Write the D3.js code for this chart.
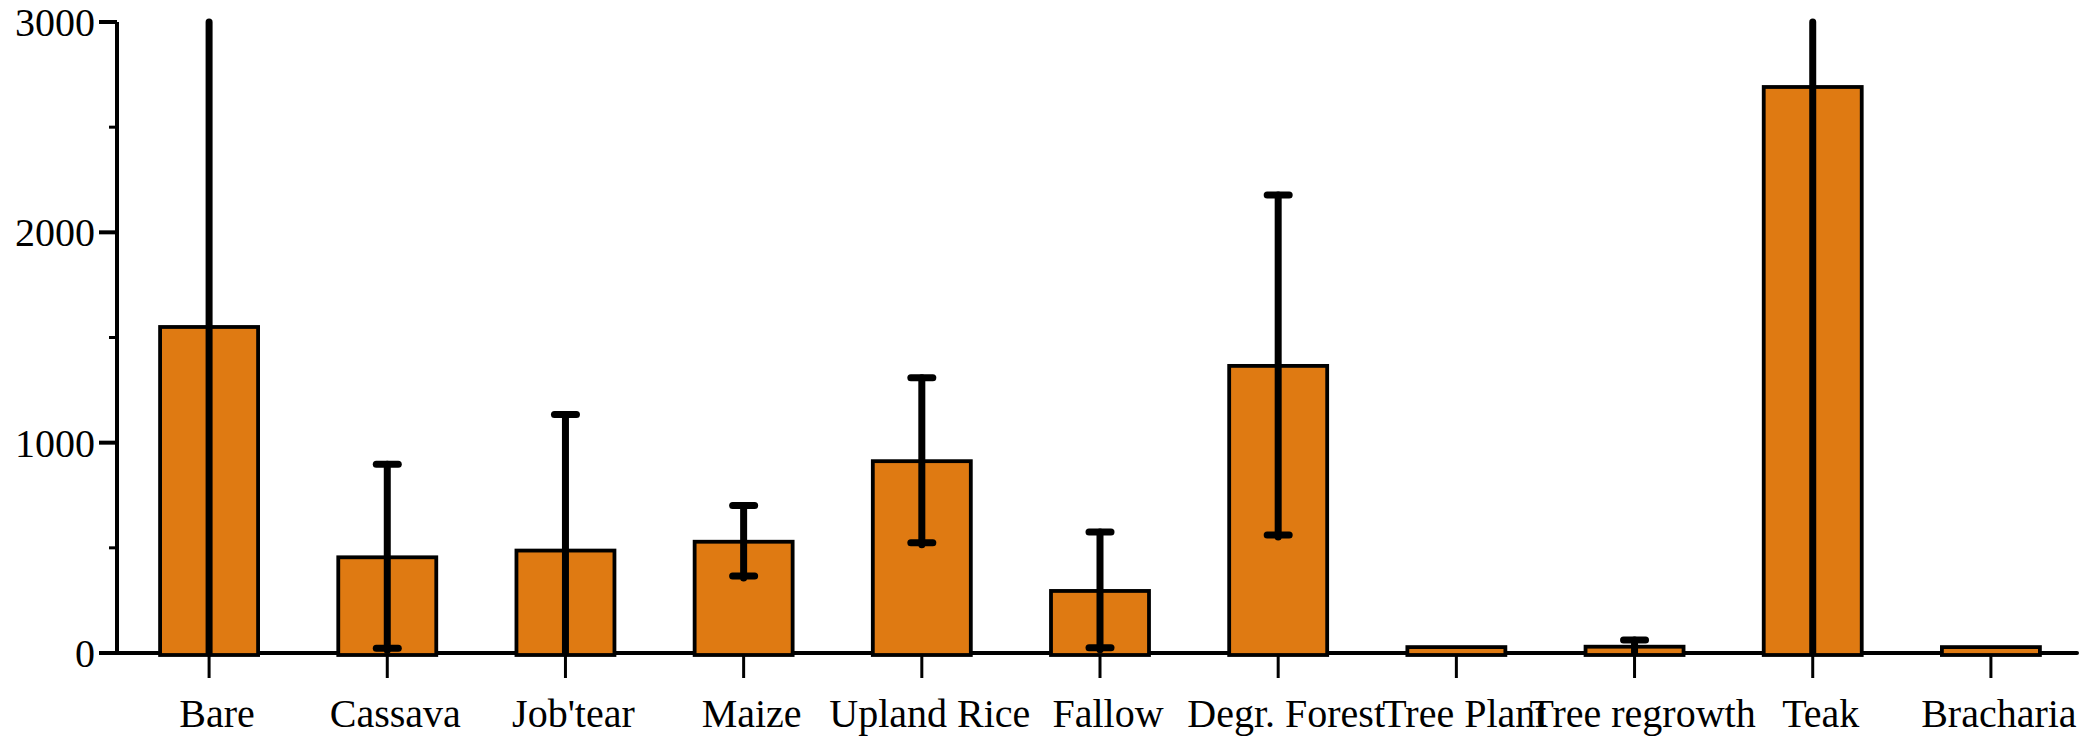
<!DOCTYPE html>
<html>
<head>
<meta charset="utf-8">
<script src="https://cdn.jsdelivr.net/npm/d3@7"></script>
<style>
  body { margin: 0; background: #fff; }
  text { font-family: "Liberation Serif", "Times New Roman", serif; fill: #000; }
</style>
</head>
<body>
<div id="vis"></div>
<script>
// categories along the x axis
var categories = ['Bare', 'Cassava', "Job'tear", 'Maize', 'Upland Rice', 'Fallow',
  'Degr. Forest', 'Tree Plant', 'Tree regrowth', 'Teak', 'Bracharia'];

// bar heights (mean)
var means = [1550, 455, 487, 529, 912, 295, 1365, 28, 30, 2691, 28];

// error bar half-lengths (0 = none drawn)
var errors = [1600, 442, 647, 172, 397, 280, 813, 0, 32, 2800, 0];

var yTicks = [0, 1000, 2000, 3000];
var yMinorTicks = [500, 1500, 2500];

var width = 2100;
var height = 736;

// plot area (note: "top" is reserved on window, so use prefixed names)
var plotLeft = 117, plotRight = 2077, plotTop = 22, plotBottom = 653;

var barColour = '#df7a12';

var svg = d3.select('#vis')
  .append('svg')
  .attr('width', width)
  .attr('height', height);

// bands sit a few px right of the axis origin, like the original
var x = d3.scaleBand()
  .domain(categories)
  .range([plotLeft + 3, plotRight + 3])
  .paddingInner(0.45)
  .paddingOuter(0.225);

var y = d3.scaleLinear()
  .domain([0, 3000])
  .range([plotBottom, plotTop]);

var data = categories.map(function (c, i) {
  return { cat: c, mean: means[i], err: errors[i] };
});

// x ticks go under the bars
svg.selectAll('.xtick')
  .data(categories)
  .enter().append('line')
  .attr('class', 'xtick')
  .attr('x1', d => x(d) + x.bandwidth() / 2)
  .attr('x2', d => x(d) + x.bandwidth() / 2)
  .attr('y1', plotBottom)
  .attr('y2', plotBottom + 25)
  .attr('stroke', '#000')
  .attr('stroke-width', 3);

// x axis line
svg.append('line')
  .attr('x1', plotLeft)
  .attr('x2', plotRight)
  .attr('y1', plotBottom)
  .attr('y2', plotBottom)
  .attr('stroke', '#000')
  .attr('stroke-width', 4)
  .attr('stroke-linecap', 'round');

// bars
svg.selectAll('.bar')
  .data(data)
  .enter().append('rect')
  .attr('class', 'bar')
  .attr('x', d => x(d.cat))
  .attr('width', x.bandwidth())
  .attr('y', d => y(d.mean))
  .attr('height', d => y(0) - y(d.mean) + 2)
  .attr('fill', barColour)
  .attr('stroke', '#000')
  .attr('stroke-width', 3.8);

// error bars, clamped to the axis range; no cap where clamped
var eb = data.filter(d => d.err > 0);
var capW = 22;

eb.forEach(function (d) {
  var cx = x(d.cat) + x.bandwidth() / 2;
  var lo = d.mean - d.err, hi = d.mean + d.err;
  var loC = Math.max(0, lo), hiC = Math.min(3000, hi);
  var g = svg.append('g')
    .attr('stroke', '#000')
    .attr('stroke-width', 7)
    .attr('stroke-linecap', 'round');
  g.append('line')
    .attr('x1', cx).attr('x2', cx)
    .attr('y1', y(loC)).attr('y2', y(hiC));
  if (hi <= 3000) {
    g.append('line')
      .attr('x1', cx - capW / 2).attr('x2', cx + capW / 2)
      .attr('y1', y(hi)).attr('y2', y(hi));
  }
  if (lo >= 0) {
    g.append('line')
      .attr('x1', cx - capW / 2).attr('x2', cx + capW / 2)
      .attr('y1', y(lo) - 2).attr('y2', y(lo) - 2);
  }
});

// y axis
svg.append('line')
  .attr('x1', plotLeft).attr('x2', plotLeft)
  .attr('y1', y(0)).attr('y2', y(3000))
  .attr('stroke', '#000')
  .attr('stroke-width', 4);

svg.selectAll('.ytick')
  .data(yTicks)
  .enter().append('line')
  .attr('class', 'ytick')
  .attr('x1', plotLeft - 18).attr('x2', plotLeft)
  .attr('y1', d => y(d)).attr('y2', d => y(d))
  .attr('stroke', '#000')
  .attr('stroke-width', 4);

svg.selectAll('.yminor')
  .data(yMinorTicks)
  .enter().append('line')
  .attr('class', 'yminor')
  .attr('x1', plotLeft - 8).attr('x2', plotLeft)
  .attr('y1', d => y(d)).attr('y2', d => y(d))
  .attr('stroke', '#000')
  .attr('stroke-width', 3);

svg.selectAll('.ylabel')
  .data(yTicks)
  .enter().append('text')
  .attr('class', 'ylabel')
  .attr('x', plotLeft - 22)
  .attr('y', d => y(d) + 14)
  .attr('text-anchor', 'end')
  .style('font-size', '40px')
  .text(d => d);

// category labels
svg.selectAll('.xlabel')
  .data(categories)
  .enter().append('text')
  .attr('class', 'xlabel')
  .attr('x', d => x(d) + x.bandwidth() / 2 + 8)
  .attr('y', 727)
  .attr('text-anchor', 'middle')
  .style('font-size', '40px')
  .text(d => d);
</script>
</body>
</html>
